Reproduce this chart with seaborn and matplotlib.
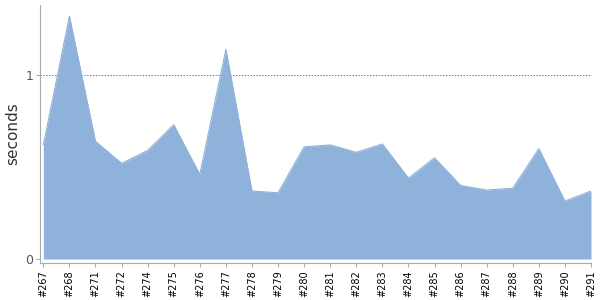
import matplotlib
matplotlib.use("Agg")
import matplotlib.pyplot as plt
import seaborn as sns
import pandas as pd
import numpy as np

builds = ["#267", "#268", "#271", "#272", "#274", "#275", "#276", "#277", "#278", "#279", "#280",
          "#281", "#282", "#283", "#284", "#285", "#286", "#287", "#288", "#289", "#290", "#291"]
seconds = [0.62, 1.32, 0.64, 0.52, 0.59, 0.73, 0.46, 1.14, 0.37, 0.36, 0.61,
           0.62, 0.58, 0.625, 0.44, 0.55, 0.40, 0.375, 0.385, 0.60, 0.315, 0.37]

df = pd.DataFrame({"build": builds, "seconds": seconds, "pos": np.arange(len(builds))})

sns.set_style("white")
fig = plt.figure(figsize=(6, 3), dpi=100)
ax = fig.add_axes([0.067, 0.123, 0.918, 0.86])

color = "#8fb2da"
sns.lineplot(data=df, x="pos", y="seconds", ax=ax, color=color, linewidth=0.8)
ax.fill_between(df["pos"], 0, df["seconds"], color=color, linewidth=0)

ax.set_xlim(-0.12, len(builds) - 1)
ax.set_ylim(-0.022, 1.38)
ax.set_xticks(df["pos"])
ax.set_xticklabels(builds, rotation=90, fontsize=7, color="black")
ax.set_yticks([0, 1])
ax.set_yticklabels(["0", "1"], fontsize=9, color="#555555")
ax.axhline(1, color="#777777", linestyle=(0, (1.5, 1.5)), linewidth=0.7, zorder=0)

for s in ["top", "right"]:
    ax.spines[s].set_visible(False)
for s in ["left", "bottom"]:
    ax.spines[s].set_color("#aaaaaa")
    ax.spines[s].set_linewidth(0.8)
ax.tick_params(axis="x", direction="out", length=3, color="#aaaaaa", bottom=True, pad=2)
ax.tick_params(axis="y", direction="out", length=3, color="#aaaaaa", left=True, pad=2)
ax.set_xlabel("")
ax.set_ylabel("seconds", fontsize=11, color="#333333", labelpad=4)

fig.savefig("out.png", dpi=100)
